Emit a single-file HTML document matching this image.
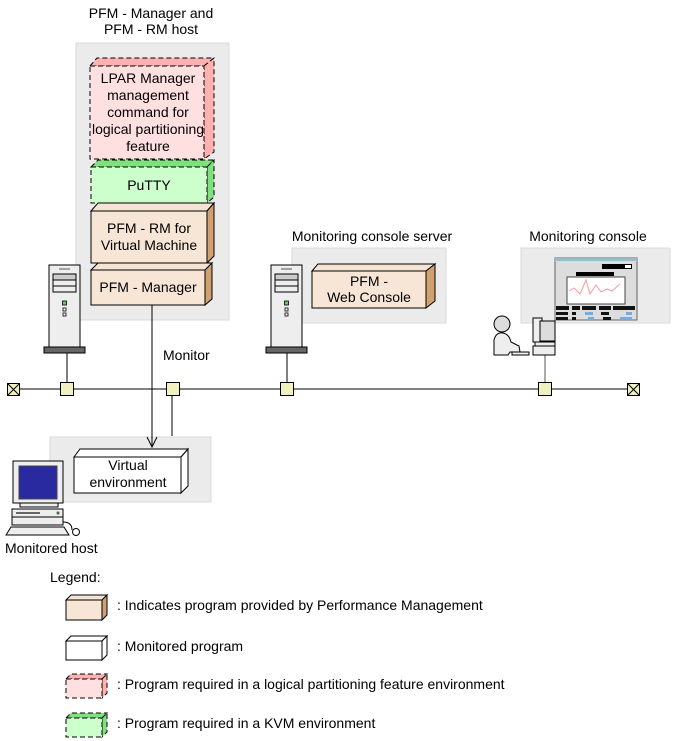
<!DOCTYPE html>
<html><head><meta charset="utf-8"><style>
html,body{margin:0;padding:0;background:#fff;}
svg{display:block;}
text{font-family:"Liberation Sans",Arial,sans-serif;font-size:14px;fill:#000;}
</style></head><body>
<svg width="673" height="741" viewBox="0 0 673 741" xmlns="http://www.w3.org/2000/svg">
<defs>
<g id="tower">
  <rect x="0" y="0" width="31" height="82" fill="#eee" stroke="#000"/>
  <line x1="10" y1="4" x2="21" y2="4" stroke="#888" stroke-width="1.5"/>
  <rect x="4" y="9" width="23" height="6" fill="#ccc" stroke="#000"/>
  <rect x="4" y="15" width="23" height="6" fill="#eee" stroke="#000"/>
  <rect x="4" y="21" width="23" height="6" fill="#eee" stroke="#000"/>
  <rect x="13.5" y="36" width="4" height="4" fill="#6c6" stroke="#000" stroke-width="0.8"/>
  <rect x="14" y="43" width="3" height="3" fill="#fff" stroke="#000" stroke-width="0.8"/>
  <rect x="14" y="48" width="3" height="3" fill="#fff" stroke="#000" stroke-width="0.8"/>
  <rect x="-5" y="82" width="41" height="6" fill="#666" stroke="#000"/>
</g>
</defs>

<rect x="76" y="43" width="153" height="277" fill="#ebebeb" stroke="#d8d8d8"/>
<rect x="292" y="248" width="154" height="75" fill="#ebebeb" stroke="#d8d8d8"/>
<rect x="521" y="248" width="149" height="75" fill="#ebebeb" stroke="#d8d8d8"/>
<rect x="50" y="437" width="161" height="65" fill="#ebebeb" stroke="#d8d8d8"/>

<text x="151" y="18" text-anchor="middle">PFM - Manager and</text>
<text x="151" y="34" text-anchor="middle">PFM - RM host</text>
<text x="372" y="241" text-anchor="middle">Monitoring console server</text>
<text x="588" y="241" text-anchor="middle">Monitoring console</text>

<polygon points="90,66 97,58 214,58 204,66" fill="#ffb0b0" stroke="#000" stroke-dasharray="5,3"/>
<polygon points="204,66 214,58 214,152 204,159" fill="#ffb0b0" stroke="#000" stroke-dasharray="5,3"/>
<rect x="90" y="66" width="114" height="93" fill="#ffe0e0" stroke="#000" stroke-dasharray="5,3"/>
<text x="148" y="83" text-anchor="middle">LPAR Manager</text>
<text x="148" y="100" text-anchor="middle">management</text>
<text x="148" y="117" text-anchor="middle">command for</text>
<text x="148" y="134" text-anchor="middle">logical partitioning</text>
<text x="148" y="151" text-anchor="middle">feature</text>

<polygon points="91,167 98,160 214,160 207,167" fill="#80e080" stroke="#000" stroke-dasharray="5,3"/>
<polygon points="207,167 214,160 214,197 207,203" fill="#80e080" stroke="#000" stroke-dasharray="5,3"/>
<rect x="91" y="167" width="116" height="36" fill="#ccffcc" stroke="#000" stroke-dasharray="5,3"/>
<text x="149" y="190" text-anchor="middle">PuTTY</text>

<polygon points="91,211 98,203 214,203 207,211" fill="#f5e4d4" stroke="#000"/>
<polygon points="207,211 214,203 214,256 207,263" fill="#d0a070" stroke="#000"/>
<rect x="91" y="211" width="116" height="52" fill="#f7e6d6" stroke="#000"/>
<text x="149" y="233" text-anchor="middle">PFM - RM for</text>
<text x="149" y="250" text-anchor="middle">Virtual Machine</text>

<polygon points="91,270 98,263 212,263 205,270" fill="#f5e4d4" stroke="#000"/>
<polygon points="205,270 212,263 212,299 205,305" fill="#d0a070" stroke="#000"/>
<rect x="91" y="270" width="114" height="35" fill="#f7e6d6" stroke="#000"/>
<text x="148" y="292" text-anchor="middle">PFM - Manager</text>

<polygon points="312,271 318,264 435,264 426,271" fill="#f5e4d4" stroke="#000"/>
<polygon points="426,271 435,264 435,301 426,308" fill="#d0a070" stroke="#000"/>
<rect x="312" y="271" width="114" height="37" fill="#f7e6d6" stroke="#000"/>
<text x="369" y="286" text-anchor="middle">PFM -</text>
<text x="369" y="302" text-anchor="middle">Web Console</text>

<polygon points="74,457 80,449 188,449 181,457" fill="#fff" stroke="#000"/>
<polygon points="181,457 188,449 188,486 181,493" fill="#fff" stroke="#000"/>
<rect x="74" y="457" width="107" height="36" fill="#fff" stroke="#000"/>
<text x="128" y="470" text-anchor="middle">Virtual</text>
<text x="128" y="487" text-anchor="middle">environment</text>

<use href="#tower" x="49" y="265"/>
<use href="#tower" x="271" y="265"/>

<line x1="67" y1="353" x2="67" y2="389" stroke="#000"/>
<line x1="287" y1="353" x2="287" y2="389" stroke="#000"/>
<line x1="545" y1="355" x2="545" y2="389" stroke="#555"/>
<line x1="20" y1="389" x2="627" y2="389" stroke="#000"/>
<line x1="152" y1="305" x2="152" y2="447" stroke="#000"/>
<polyline points="147,437 152,447 157,437" fill="none" stroke="#000"/>
<line x1="172" y1="389" x2="172" y2="436" stroke="#000"/>
<text x="163" y="360">Monitor</text>
<g fill="#f0f0c0" stroke="#000">
<rect x="60.5" y="382.5" width="13" height="13"/>
<rect x="166.5" y="382.5" width="13" height="13"/>
<rect x="280.5" y="382.5" width="13" height="13"/>
<rect x="538.5" y="382.5" width="13" height="13"/>
<rect x="7.5" y="383.5" width="12" height="12"/>
<rect x="627.5" y="383.5" width="12" height="12"/>
</g>
<path d="M7.5 383.5L19.5 395.5M19.5 383.5L7.5 395.5M627.5 383.5L639.5 395.5M639.5 383.5L627.5 395.5" stroke="#000"/>

<rect x="555" y="258" width="82" height="62" fill="#ddd" stroke="#666"/>
<rect x="555" y="258" width="82" height="3" fill="#9bc"/>
<rect x="602" y="264" width="30" height="5" fill="#000"/><rect x="625" y="265" width="6" height="3" fill="#fff"/>
<rect x="576" y="272" width="38" height="4" fill="#000"/>
<rect x="567" y="277" width="58" height="27" fill="#fff" stroke="#444"/>
<polyline points="569,291 574,288 580,294 586,280 590,294 596,285 601,292 607,289 612,291 620,284" fill="none" stroke="#f99"/>
<g fill="#111">
<rect x="556" y="306" width="13" height="4"/><rect x="572" y="306" width="8" height="4"/><rect x="582" y="306" width="14" height="4"/><rect x="599" y="306" width="12" height="4"/><rect x="613" y="306" width="22" height="4"/>
<rect x="556" y="312" width="12" height="3"/><rect x="572" y="312" width="4" height="3"/><rect x="601" y="312" width="8" height="3"/>
<rect x="556" y="317" width="12" height="3"/><rect x="572" y="317" width="4" height="3"/><rect x="603" y="317" width="8" height="3"/>
</g>
<g fill="#7ad"><rect x="585" y="312" width="8" height="3"/><rect x="626" y="312" width="6" height="3"/><rect x="588" y="317" width="6" height="3"/><rect x="620" y="317" width="12" height="3"/></g>

<circle cx="502" cy="324" r="8" fill="#ddd" stroke="#000"/>
<path d="M494 355 L494 340 Q496 332 503 333 Q509 334 511 342 L519 346 L520 352 L510 352 L508 355 Z" fill="#eee" stroke="#000"/>
<rect x="512" y="352" width="17" height="3" fill="#eee" stroke="#000"/>
<rect x="533" y="318" width="9" height="24" fill="#eee" stroke="#000"/>
<rect x="540" y="321" width="15" height="20" fill="#ddd" stroke="#000"/>
<rect x="535" y="342" width="20" height="4" fill="#eee" stroke="#000"/>
<rect x="533" y="346" width="22" height="9" fill="#eee" stroke="#000"/>

<rect x="13" y="461" width="50" height="42" fill="#eee" stroke="#000"/>
<rect x="19" y="466" width="38" height="33" fill="#2a2aa0" stroke="#444"/>
<rect x="20" y="503" width="38" height="4" fill="#eee" stroke="#000"/>
<rect x="12" y="509" width="51" height="16" fill="#eee" stroke="#000"/>
<line x1="12" y1="517" x2="63" y2="517" stroke="#000"/>
<rect x="16" y="512" width="24" height="2" fill="#666"/>
<rect x="57" y="512" width="2" height="2" fill="#6c6" stroke="#000" stroke-width="0.5"/>
<polygon points="6,535 11,527 64,527 69,535" fill="#eee" stroke="#000"/>
<path d="M63 522 Q72 522 72 530" fill="none" stroke="#000"/>
<circle cx="76" cy="532" r="3.5" fill="#fff" stroke="#000"/>
<text x="5" y="553">Monitored host</text>

<text x="50" y="582">Legend:</text>
<polygon points="66,600 71,595 107,595 102,600" fill="#f5e4d4" stroke="#000"/>
<polygon points="102,600 107,595 107,615 102,620" fill="#d0a070" stroke="#000"/>
<rect x="66" y="600" width="36" height="20" fill="#f7e6d6" stroke="#000"/>
<text x="117" y="610">: Indicates program provided by Performance Management</text>

<polygon points="66,641 71,636 107,636 102,641" fill="#fff" stroke="#000"/>
<polygon points="102,641 107,636 107,655 102,660" fill="#fff" stroke="#000"/>
<rect x="66" y="641" width="36" height="19" fill="#fff" stroke="#000"/>
<text x="117" y="651">: Monitored program</text>

<polygon points="66,679 71,674 107,674 102,679" fill="#ffb0b0" stroke="#000" stroke-dasharray="5,3"/>
<polygon points="102,679 107,674 107,693 102,698" fill="#ffb0b0" stroke="#000" stroke-dasharray="5,3"/>
<rect x="66" y="679" width="36" height="19" fill="#ffe0e0" stroke="#000" stroke-dasharray="5,3"/>
<text x="117" y="689">: Program required in a logical partitioning feature environment</text>

<polygon points="66,718 71,713 107,713 102,718" fill="#80e080" stroke="#000" stroke-dasharray="5,3"/>
<polygon points="102,718 107,713 107,732 102,737" fill="#80e080" stroke="#000" stroke-dasharray="5,3"/>
<rect x="66" y="718" width="36" height="19" fill="#ccffcc" stroke="#000" stroke-dasharray="5,3"/>
<text x="117" y="728">: Program required in a KVM environment</text>
</svg>
</body></html>
